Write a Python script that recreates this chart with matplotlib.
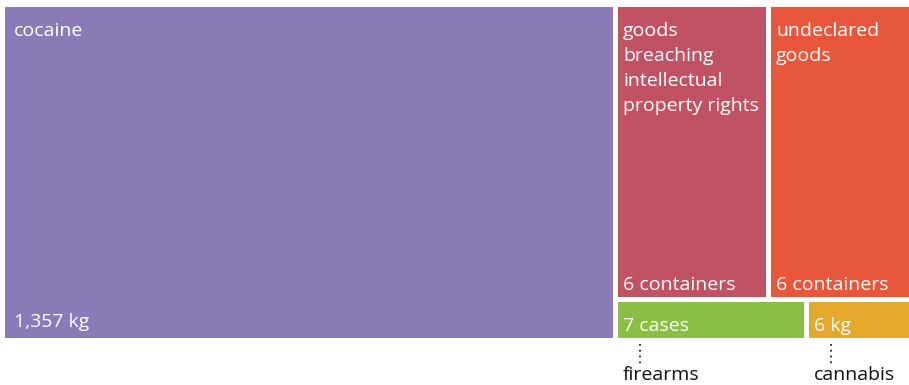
import matplotlib.pyplot as plt
from matplotlib.patches import Rectangle

# seizures: label, amount shown, relative area, colour
names = ["cocaine", "goods\nbreaching\nintellectual\nproperty rights", "undeclared\ngoods", "firearms", "cannabis"]
amounts = ["1,357 kg", "6 containers", "6 containers", "7 cases", "6 kg"]
area_weight = [206.6, 45.3, 42.3, 7.8, 4.3]
colors = ["#8a7ab8", "#c05263", "#e9573b", "#8bbe44", "#e5a82a"]

plt.rcParams['font.family'] = ['Open Sans', 'DejaVu Sans']

W, H = 909, 385
gap = 5
x0, y0, x1, y1 = 5, 7, 909 + gap, 338 + gap

fig = plt.figure(figsize=(W / 100, H / 100), dpi=100)
ax = fig.add_axes([0, 0, 1, 1])
ax.set_xlim(0, W)
ax.set_ylim(H, 0)
ax.axis('off')

# layout: big block on the left, rest split into two rows of two
total = sum(area_weight)
rh = y1 - y0
left_w = (x1 - x0) * area_weight[0] / total
rects = [(x0, y0, left_w, rh)]
rx = x0 + left_w
rw = x1 - rx
rest = sum(area_weight[1:])
top_h = rh * sum(area_weight[1:3]) / rest
for row, (ry, hh) in zip([[1, 2], [3, 4]], [(y0, top_h), (y0 + top_h, rh - top_h)]):
    cx = rx
    s = sum(area_weight[i] for i in row)
    for i in row:
        ww = rw * area_weight[i] / s
        rects.append((cx, ry, ww, hh))
        cx += ww

fs = 14
for i, (x, y, w, h) in enumerate(rects):
    ax.add_patch(Rectangle((x, y), w - gap, h - gap, facecolor=colors[i], edgecolor='none'))
    pad = 9 if i == 0 else 5
    bot = 11 if i == 0 else 7
    if i < 3:
        ax.text(x + pad, y + 15, names[i], color='white', fontsize=fs, va='top', ha='left',
                linespacing=1.5)
    ax.text(x + pad, y + h - gap - bot, amounts[i], color='white', fontsize=fs, va='baseline', ha='left')

# small blocks get their names underneath with a dotted leader
for i in [3, 4]:
    x, y, w, h = rects[i]
    lx = x + 22
    ax.plot([lx, lx], [y + h + 1, y + h + 21], color='#222222', lw=1.3, ls=(0, (1, 2.2)))
    ax.text(x + 5, y + h + 37, names[i], color='#111111', fontsize=fs, va='baseline', ha='left')

fig.savefig('out.png', dpi=100)
